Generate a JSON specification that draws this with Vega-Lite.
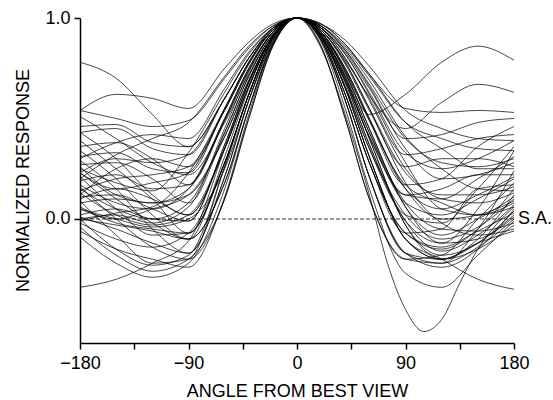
{
"$schema":"https://vega.github.io/schema/vega-lite/v6.json",
"width":434,"height":325,
"autosize":{"type":"none"},
"padding":{"left":80,"top":18,"right":39,"bottom":57},
"background":"white",
"config":{"view":{"stroke":null},"font":"Liberation Sans"},
"layer":[
{"data":{"values":[
{"c":1,"a":-180,"v":0.78},{"c":1,"a":-150,"v":0.70},{"c":1,"a":-120,"v":0.52},{"c":1,"a":-90,"v":0.36},{"c":1,"a":-60,"v":0.60},{"c":1,"a":-40,"v":0.80},{"c":1,"a":-20,"v":0.94},{"c":1,"a":0,"v":1},{"c":1,"a":20,"v":0.93},{"c":1,"a":40,"v":0.72},{"c":1,"a":60,"v":0.52},{"c":1,"a":90,"v":0.62},{"c":1,"a":120,"v":0.78},{"c":1,"a":150,"v":0.86},{"c":1,"a":180,"v":0.79},
{"c":2,"a":-180,"v":0.54},{"c":2,"a":-150,"v":0.62},{"c":2,"a":-120,"v":0.60},{"c":2,"a":-90,"v":0.55},{"c":2,"a":-60,"v":0.75},{"c":2,"a":-40,"v":0.88},{"c":2,"a":-20,"v":0.97},{"c":2,"a":0,"v":1},{"c":2,"a":20,"v":0.94},{"c":2,"a":40,"v":0.79},{"c":2,"a":60,"v":0.61},{"c":2,"a":90,"v":0.45},{"c":2,"a":120,"v":0.58},{"c":2,"a":150,"v":0.67},{"c":2,"a":180,"v":0.63},
{"c":3,"a":-180,"v":0.54},{"c":3,"a":-150,"v":0.50},{"c":3,"a":-120,"v":0.46},{"c":3,"a":-90,"v":0.49},{"c":3,"a":-60,"v":0.70},{"c":3,"a":-40,"v":0.85},{"c":3,"a":-20,"v":0.96},{"c":3,"a":0,"v":1},{"c":3,"a":20,"v":0.97},{"c":3,"a":40,"v":0.87},{"c":3,"a":60,"v":0.72},{"c":3,"a":90,"v":0.55},{"c":3,"a":120,"v":0.53},{"c":3,"a":150,"v":0.54},{"c":3,"a":180,"v":0.53},
{"c":4,"a":-180,"v":0.51},{"c":4,"a":-150,"v":0.40},{"c":4,"a":-120,"v":0.28},{"c":4,"a":-90,"v":0.22},{"c":4,"a":-60,"v":0.48},{"c":4,"a":-40,"v":0.72},{"c":4,"a":-20,"v":0.92},{"c":4,"a":0,"v":1},{"c":4,"a":20,"v":0.95},{"c":4,"a":40,"v":0.83},{"c":4,"a":60,"v":0.65},{"c":4,"a":90,"v":0.40},{"c":4,"a":120,"v":0.42},{"c":4,"a":150,"v":0.48},{"c":4,"a":180,"v":0.50},
{"c":5,"a":-180,"v":0.46},{"c":5,"a":-150,"v":0.47},{"c":5,"a":-120,"v":0.38},{"c":5,"a":-90,"v":0.36},{"c":5,"a":-60,"v":0.60},{"c":5,"a":-40,"v":0.80},{"c":5,"a":-20,"v":0.94},{"c":5,"a":0,"v":1},{"c":5,"a":20,"v":0.93},{"c":5,"a":40,"v":0.74},{"c":5,"a":60,"v":0.49},{"c":5,"a":90,"v":0.17},{"c":5,"a":120,"v":0.20},{"c":5,"a":150,"v":0.36},{"c":5,"a":180,"v":0.46},
{"c":6,"a":-180,"v":0.43},{"c":6,"a":-150,"v":0.30},{"c":6,"a":-120,"v":0.12},{"c":6,"a":-90,"v":0.02},{"c":6,"a":-60,"v":0.35},{"c":6,"a":-40,"v":0.66},{"c":6,"a":-20,"v":0.91},{"c":6,"a":0,"v":1},{"c":6,"a":20,"v":0.95},{"c":6,"a":40,"v":0.80},{"c":6,"a":60,"v":0.60},{"c":6,"a":90,"v":0.32},{"c":6,"a":120,"v":0.35},{"c":6,"a":150,"v":0.40},{"c":6,"a":180,"v":0.42},
{"c":7,"a":-180,"v":0.43},{"c":7,"a":-150,"v":0.45},{"c":7,"a":-120,"v":0.35},{"c":7,"a":-90,"v":0.32},{"c":7,"a":-60,"v":0.60},{"c":7,"a":-40,"v":0.80},{"c":7,"a":-20,"v":0.95},{"c":7,"a":0,"v":1},{"c":7,"a":20,"v":0.91},{"c":7,"a":40,"v":0.66},{"c":7,"a":60,"v":0.35},{"c":7,"a":90,"v":0.02},{"c":7,"a":120,"v":-0.02},{"c":7,"a":150,"v":0.15},{"c":7,"a":180,"v":0.36},
{"c":8,"a":-180,"v":0.39},{"c":8,"a":-150,"v":0.25},{"c":8,"a":-120,"v":0.10},{"c":8,"a":-90,"v":-0.07},{"c":8,"a":-60,"v":0.28},{"c":8,"a":-40,"v":0.62},{"c":8,"a":-20,"v":0.90},{"c":8,"a":0,"v":1},{"c":8,"a":20,"v":0.95},{"c":8,"a":40,"v":0.82},{"c":8,"a":60,"v":0.63},{"c":8,"a":90,"v":0.33},{"c":8,"a":120,"v":0.25},{"c":8,"a":150,"v":0.30},{"c":8,"a":180,"v":0.39},
{"c":9,"a":-180,"v":0.36},{"c":9,"a":-150,"v":0.38},{"c":9,"a":-120,"v":0.30},{"c":9,"a":-90,"v":0.17},{"c":9,"a":-60,"v":0.49},{"c":9,"a":-40,"v":0.74},{"c":9,"a":-20,"v":0.93},{"c":9,"a":0,"v":1},{"c":9,"a":20,"v":0.91},{"c":9,"a":40,"v":0.68},{"c":9,"a":60,"v":0.37},{"c":9,"a":90,"v":-0.01},{"c":9,"a":120,"v":-0.12},{"c":9,"a":150,"v":0.05},{"c":9,"a":180,"v":0.34},
{"c":10,"a":-180,"v":0.34},{"c":10,"a":-150,"v":0.20},{"c":10,"a":-120,"v":0.02},{"c":10,"a":-90,"v":-0.10},{"c":10,"a":-60,"v":0.18},{"c":10,"a":-40,"v":0.55},{"c":10,"a":-20,"v":0.87},{"c":10,"a":0,"v":1},{"c":10,"a":20,"v":0.91},{"c":10,"a":40,"v":0.69},{"c":10,"a":60,"v":0.41},{"c":10,"a":90,"v":0.12},{"c":10,"a":120,"v":0.10},{"c":10,"a":150,"v":0.20},{"c":10,"a":180,"v":0.31},
{"c":11,"a":-180,"v":0.31},{"c":11,"a":-150,"v":0.33},{"c":11,"a":-120,"v":0.25},{"c":11,"a":-90,"v":0.23},{"c":11,"a":-60,"v":0.55},{"c":11,"a":-40,"v":0.78},{"c":11,"a":-20,"v":0.94},{"c":11,"a":0,"v":1},{"c":11,"a":20,"v":0.96},{"c":11,"a":40,"v":0.84},{"c":11,"a":60,"v":0.66},{"c":11,"a":90,"v":0.35},{"c":11,"a":120,"v":0.20},{"c":11,"a":150,"v":0.22},{"c":11,"a":180,"v":0.28},
{"c":12,"a":-180,"v":0.29},{"c":12,"a":-150,"v":0.15},{"c":12,"a":-120,"v":-0.05},{"c":12,"a":-90,"v":-0.17},{"c":12,"a":-60,"v":0.21},{"c":12,"a":-40,"v":0.59},{"c":12,"a":-20,"v":0.89},{"c":12,"a":0,"v":1},{"c":12,"a":20,"v":0.94},{"c":12,"a":40,"v":0.77},{"c":12,"a":60,"v":0.54},{"c":12,"a":90,"v":0.26},{"c":12,"a":120,"v":0.30},{"c":12,"a":150,"v":0.30},{"c":12,"a":180,"v":0.26},
{"c":13,"a":-180,"v":0.27},{"c":13,"a":-150,"v":0.28},{"c":13,"a":-120,"v":0.20},{"c":13,"a":-90,"v":0.08},{"c":13,"a":-60,"v":0.43},{"c":13,"a":-40,"v":0.71},{"c":13,"a":-20,"v":0.92},{"c":13,"a":0,"v":1},{"c":13,"a":20,"v":0.89},{"c":13,"a":40,"v":0.59},{"c":13,"a":60,"v":0.21},{"c":13,"a":90,"v":-0.17},{"c":13,"a":120,"v":-0.22},{"c":13,"a":150,"v":-0.05},{"c":13,"a":180,"v":0.24},
{"c":14,"a":-180,"v":0.25},{"c":14,"a":-150,"v":0.18},{"c":14,"a":-120,"v":0.14},{"c":14,"a":-90,"v":0.33},{"c":14,"a":-60,"v":0.63},{"c":14,"a":-40,"v":0.82},{"c":14,"a":-20,"v":0.95},{"c":14,"a":0,"v":1},{"c":14,"a":20,"v":0.93},{"c":14,"a":40,"v":0.75},{"c":14,"a":60,"v":0.50},{"c":14,"a":90,"v":0.15},{"c":14,"a":120,"v":0.05},{"c":14,"a":150,"v":0.12},{"c":14,"a":180,"v":0.21},
{"c":15,"a":-180,"v":0.23},{"c":15,"a":-150,"v":0.10},{"c":15,"a":-120,"v":-0.02},{"c":15,"a":-90,"v":-0.10},{"c":15,"a":-60,"v":0.18},{"c":15,"a":-40,"v":0.55},{"c":15,"a":-20,"v":0.87},{"c":15,"a":0,"v":1},{"c":15,"a":20,"v":0.92},{"c":15,"a":40,"v":0.71},{"c":15,"a":60,"v":0.43},{"c":15,"a":90,"v":0.08},{"c":15,"a":120,"v":0.02},{"c":15,"a":150,"v":0.10},{"c":15,"a":180,"v":0.20},
{"c":16,"a":-180,"v":0.23},{"c":16,"a":-150,"v":0.30},{"c":16,"a":-120,"v":0.28},{"c":16,"a":-90,"v":0.32},{"c":16,"a":-60,"v":0.60},{"c":16,"a":-40,"v":0.80},{"c":16,"a":-20,"v":0.95},{"c":16,"a":0,"v":1},{"c":16,"a":20,"v":0.86},{"c":16,"a":40,"v":0.50},{"c":16,"a":60,"v":0.10},{"c":16,"a":90,"v":-0.20},{"c":16,"a":120,"v":-0.18},{"c":16,"a":150,"v":0.00},{"c":16,"a":180,"v":0.18},
{"c":17,"a":-180,"v":0.21},{"c":17,"a":-150,"v":0.05},{"c":17,"a":-120,"v":-0.08},{"c":17,"a":-90,"v":-0.07},{"c":17,"a":-60,"v":0.28},{"c":17,"a":-40,"v":0.62},{"c":17,"a":-20,"v":0.90},{"c":17,"a":0,"v":1},{"c":17,"a":20,"v":0.94},{"c":17,"a":40,"v":0.78},{"c":17,"a":60,"v":0.55},{"c":17,"a":90,"v":0.23},{"c":17,"a":120,"v":0.12},{"c":17,"a":150,"v":0.12},{"c":17,"a":180,"v":0.16},
{"c":18,"a":-180,"v":0.19},{"c":18,"a":-150,"v":0.22},{"c":18,"a":-120,"v":0.15},{"c":18,"a":-90,"v":0.17},{"c":18,"a":-60,"v":0.49},{"c":18,"a":-40,"v":0.74},{"c":18,"a":-20,"v":0.93},{"c":18,"a":0,"v":1},{"c":18,"a":20,"v":0.90},{"c":18,"a":40,"v":0.62},{"c":18,"a":60,"v":0.28},{"c":18,"a":90,"v":-0.07},{"c":18,"a":120,"v":-0.15},{"c":18,"a":150,"v":-0.05},{"c":18,"a":180,"v":0.15},
{"c":19,"a":-180,"v":0.17},{"c":19,"a":-150,"v":0.08},{"c":19,"a":-120,"v":0.05},{"c":19,"a":-90,"v":0.15},{"c":19,"a":-60,"v":0.50},{"c":19,"a":-40,"v":0.75},{"c":19,"a":-20,"v":0.93},{"c":19,"a":0,"v":1},{"c":19,"a":20,"v":0.95},{"c":19,"a":40,"v":0.80},{"c":19,"a":60,"v":0.59},{"c":19,"a":90,"v":0.25},{"c":19,"a":120,"v":0.10},{"c":19,"a":150,"v":0.08},{"c":19,"a":180,"v":0.13},
{"c":20,"a":-180,"v":0.16},{"c":20,"a":-150,"v":0.00},{"c":20,"a":-120,"v":-0.14},{"c":20,"a":-90,"v":-0.20},{"c":20,"a":-60,"v":0.10},{"c":20,"a":-40,"v":0.50},{"c":20,"a":-20,"v":0.86},{"c":20,"a":0,"v":1},{"c":20,"a":20,"v":0.91},{"c":20,"a":40,"v":0.65},{"c":20,"a":60,"v":0.31},{"c":20,"a":90,"v":-0.10},{"c":20,"a":120,"v":-0.20},{"c":20,"a":150,"v":-0.10},{"c":20,"a":180,"v":0.12},
{"c":21,"a":-180,"v":0.14},{"c":21,"a":-150,"v":0.20},{"c":21,"a":-120,"v":0.22},{"c":21,"a":-90,"v":0.26},{"c":21,"a":-60,"v":0.54},{"c":21,"a":-40,"v":0.77},{"c":21,"a":-20,"v":0.94},{"c":21,"a":0,"v":1},{"c":21,"a":20,"v":0.93},{"c":21,"a":40,"v":0.73},{"c":21,"a":60,"v":0.45},{"c":21,"a":90,"v":0.06},{"c":21,"a":120,"v":-0.08},{"c":21,"a":150,"v":0.00},{"c":21,"a":180,"v":0.11},
{"c":22,"a":-180,"v":0.13},{"c":22,"a":-150,"v":0.02},{"c":22,"a":-120,"v":-0.03},{"c":22,"a":-90,"v":0.02},{"c":22,"a":-60,"v":0.35},{"c":22,"a":-40,"v":0.66},{"c":22,"a":-20,"v":0.91},{"c":22,"a":0,"v":1},{"c":22,"a":20,"v":0.91},{"c":22,"a":40,"v":0.66},{"c":22,"a":60,"v":0.35},{"c":22,"a":90,"v":0.02},{"c":22,"a":120,"v":-0.10},{"c":22,"a":150,"v":-0.04},{"c":22,"a":180,"v":0.10},
{"c":23,"a":-180,"v":0.11},{"c":23,"a":-150,"v":0.12},{"c":23,"a":-120,"v":0.05},{"c":23,"a":-90,"v":-0.01},{"c":23,"a":-60,"v":0.37},{"c":23,"a":-40,"v":0.68},{"c":23,"a":-20,"v":0.91},{"c":23,"a":0,"v":1},{"c":23,"a":20,"v":0.95},{"c":23,"a":40,"v":0.82},{"c":23,"a":60,"v":0.62},{"c":23,"a":90,"v":0.28},{"c":23,"a":120,"v":0.05},{"c":23,"a":150,"v":0.02},{"c":23,"a":180,"v":0.08},
{"c":24,"a":-180,"v":0.09},{"c":24,"a":-150,"v":-0.08},{"c":24,"a":-120,"v":-0.22},{"c":24,"a":-90,"v":-0.20},{"c":24,"a":-60,"v":0.26},{"c":24,"a":-40,"v":0.62},{"c":24,"a":-20,"v":0.90},{"c":24,"a":0,"v":1},{"c":24,"a":20,"v":0.91},{"c":24,"a":40,"v":0.68},{"c":24,"a":60,"v":0.37},{"c":24,"a":90,"v":-0.01},{"c":24,"a":120,"v":-0.16},{"c":24,"a":150,"v":-0.08},{"c":24,"a":180,"v":0.07},
{"c":25,"a":-180,"v":0.08},{"c":25,"a":-150,"v":0.10},{"c":25,"a":-120,"v":0.08},{"c":25,"a":-90,"v":0.15},{"c":25,"a":-60,"v":0.50},{"c":25,"a":-40,"v":0.75},{"c":25,"a":-20,"v":0.93},{"c":25,"a":0,"v":1},{"c":25,"a":20,"v":0.93},{"c":25,"a":40,"v":0.74},{"c":25,"a":60,"v":0.49},{"c":25,"a":90,"v":0.17},{"c":25,"a":120,"v":0.08},{"c":25,"a":150,"v":0.02},{"c":25,"a":180,"v":0.06},
{"c":26,"a":-180,"v":0.06},{"c":26,"a":-150,"v":-0.02},{"c":26,"a":-120,"v":-0.05},{"c":26,"a":-90,"v":-0.07},{"c":26,"a":-60,"v":0.28},{"c":26,"a":-40,"v":0.62},{"c":26,"a":-20,"v":0.90},{"c":26,"a":0,"v":1},{"c":26,"a":20,"v":0.89},{"c":26,"a":40,"v":0.59},{"c":26,"a":60,"v":0.21},{"c":26,"a":90,"v":-0.17},{"c":26,"a":120,"v":-0.24},{"c":26,"a":150,"v":-0.15},{"c":26,"a":180,"v":0.05},
{"c":27,"a":-180,"v":0.05},{"c":27,"a":-150,"v":0.00},{"c":27,"a":-120,"v":-0.04},{"c":27,"a":-90,"v":0.00},{"c":27,"a":-60,"v":0.25},{"c":27,"a":-40,"v":0.59},{"c":27,"a":-20,"v":0.88},{"c":27,"a":0,"v":1},{"c":27,"a":20,"v":0.92},{"c":27,"a":40,"v":0.70},{"c":27,"a":60,"v":0.40},{"c":27,"a":90,"v":-0.03},{"c":27,"a":120,"v":-0.18},{"c":27,"a":150,"v":-0.12},{"c":27,"a":180,"v":0.04},
{"c":28,"a":-180,"v":0.00},{"c":28,"a":-150,"v":-0.15},{"c":28,"a":-120,"v":-0.23},{"c":28,"a":-90,"v":-0.18},{"c":28,"a":-60,"v":0.26},{"c":28,"a":-40,"v":0.62},{"c":28,"a":-20,"v":0.90},{"c":28,"a":0,"v":1},{"c":28,"a":20,"v":0.90},{"c":28,"a":40,"v":0.62},{"c":28,"a":60,"v":0.28},{"c":28,"a":90,"v":-0.07},{"c":28,"a":120,"v":-0.14},{"c":28,"a":150,"v":-0.06},{"c":28,"a":180,"v":0.03},
{"c":29,"a":-180,"v":0.02},{"c":29,"a":-150,"v":0.05},{"c":29,"a":-120,"v":0.00},{"c":29,"a":-90,"v":-0.01},{"c":29,"a":-60,"v":0.37},{"c":29,"a":-40,"v":0.68},{"c":29,"a":-20,"v":0.91},{"c":29,"a":0,"v":1},{"c":29,"a":20,"v":0.91},{"c":29,"a":40,"v":0.65},{"c":29,"a":60,"v":0.31},{"c":29,"a":90,"v":-0.10},{"c":29,"a":120,"v":-0.20},{"c":29,"a":150,"v":-0.12},{"c":29,"a":180,"v":0.02},
{"c":30,"a":-180,"v":0.01},{"c":30,"a":-150,"v":-0.05},{"c":30,"a":-120,"v":-0.12},{"c":30,"a":-90,"v":-0.17},{"c":30,"a":-60,"v":0.21},{"c":30,"a":-40,"v":0.59},{"c":30,"a":-20,"v":0.89},{"c":30,"a":0,"v":1},{"c":30,"a":20,"v":0.93},{"c":30,"a":40,"v":0.73},{"c":30,"a":60,"v":0.45},{"c":30,"a":90,"v":0.06},{"c":30,"a":120,"v":-0.12},{"c":30,"a":150,"v":-0.10},{"c":30,"a":180,"v":0.01},
{"c":31,"a":-180,"v":0.00},{"c":31,"a":-150,"v":0.02},{"c":31,"a":-120,"v":-0.02},{"c":31,"a":-90,"v":0.06},{"c":31,"a":-60,"v":0.45},{"c":31,"a":-40,"v":0.73},{"c":31,"a":-20,"v":0.93},{"c":31,"a":0,"v":1},{"c":31,"a":20,"v":0.86},{"c":31,"a":40,"v":0.50},{"c":31,"a":60,"v":0.10},{"c":31,"a":90,"v":-0.20},{"c":31,"a":120,"v":-0.22},{"c":31,"a":150,"v":-0.14},{"c":31,"a":180,"v":0.00},
{"c":32,"a":-180,"v":0.00},{"c":32,"a":-150,"v":-0.03},{"c":32,"a":-120,"v":-0.06},{"c":32,"a":-90,"v":-0.10},{"c":32,"a":-60,"v":0.31},{"c":32,"a":-40,"v":0.65},{"c":32,"a":-20,"v":0.91},{"c":32,"a":0,"v":1},{"c":32,"a":20,"v":0.88},{"c":32,"a":40,"v":0.55},{"c":32,"a":60,"v":0.15},{"c":32,"a":90,"v":-0.27},{"c":32,"a":120,"v":-0.34},{"c":32,"a":150,"v":-0.18},{"c":32,"a":180,"v":-0.01},
{"c":33,"a":-180,"v":-0.01},{"c":33,"a":-150,"v":0.03},{"c":33,"a":-120,"v":0.06},{"c":33,"a":-90,"v":0.23},{"c":33,"a":-60,"v":0.55},{"c":33,"a":-40,"v":0.78},{"c":33,"a":-20,"v":0.94},{"c":33,"a":0,"v":1},{"c":33,"a":20,"v":0.92},{"c":33,"a":40,"v":0.71},{"c":33,"a":60,"v":0.43},{"c":33,"a":90,"v":0.08},{"c":33,"a":120,"v":-0.05},{"c":33,"a":150,"v":-0.06},{"c":33,"a":180,"v":-0.02},
{"c":34,"a":-180,"v":-0.02},{"c":34,"a":-150,"v":-0.10},{"c":34,"a":-120,"v":-0.14},{"c":34,"a":-90,"v":-0.07},{"c":34,"a":-60,"v":0.28},{"c":34,"a":-40,"v":0.62},{"c":34,"a":-20,"v":0.90},{"c":34,"a":0,"v":1},{"c":34,"a":20,"v":0.92},{"c":34,"a":40,"v":0.70},{"c":34,"a":60,"v":0.40},{"c":34,"a":90,"v":-0.03},{"c":34,"a":120,"v":-0.20},{"c":34,"a":150,"v":-0.15},{"c":34,"a":180,"v":-0.03},
{"c":35,"a":-180,"v":-0.04},{"c":35,"a":-150,"v":-0.18},{"c":35,"a":-120,"v":-0.26},{"c":35,"a":-90,"v":-0.20},{"c":35,"a":-60,"v":0.10},{"c":35,"a":-40,"v":0.50},{"c":35,"a":-20,"v":0.86},{"c":35,"a":0,"v":1},{"c":35,"a":20,"v":0.94},{"c":35,"a":40,"v":0.78},{"c":35,"a":60,"v":0.55},{"c":35,"a":90,"v":0.18},{"c":35,"a":120,"v":-0.02},{"c":35,"a":150,"v":-0.08},{"c":35,"a":180,"v":-0.05},
{"c":36,"a":-180,"v":-0.06},{"c":36,"a":-150,"v":-0.15},{"c":36,"a":-120,"v":-0.20},{"c":36,"a":-90,"v":-0.24},{"c":36,"a":-60,"v":0.11},{"c":36,"a":-40,"v":0.52},{"c":36,"a":-20,"v":0.87},{"c":36,"a":0,"v":1},{"c":36,"a":20,"v":0.89},{"c":36,"a":40,"v":0.59},{"c":36,"a":60,"v":0.21},{"c":36,"a":90,"v":-0.17},{"c":36,"a":120,"v":-0.20},{"c":36,"a":150,"v":-0.12},{"c":36,"a":180,"v":-0.06},
{"c":37,"a":-180,"v":-0.09},{"c":37,"a":-150,"v":-0.22},{"c":37,"a":-120,"v":-0.29},{"c":37,"a":-90,"v":-0.22},{"c":37,"a":-60,"v":0.15},{"c":37,"a":-40,"v":0.55},{"c":37,"a":-20,"v":0.88},{"c":37,"a":0,"v":1},{"c":37,"a":20,"v":0.85},{"c":37,"a":40,"v":0.52},{"c":37,"a":60,"v":0.12},{"c":37,"a":75,"v":-0.22},{"c":37,"a":90,"v":-0.45},{"c":37,"a":105,"v":-0.56},{"c":37,"a":120,"v":-0.50},{"c":37,"a":135,"v":-0.32},{"c":37,"a":150,"v":-0.15},{"c":37,"a":165,"v":-0.03},{"c":37,"a":180,"v":0.06},
{"c":38,"a":-180,"v":-0.34},{"c":38,"a":-150,"v":-0.30},{"c":38,"a":-120,"v":-0.22},{"c":38,"a":-90,"v":-0.11},{"c":38,"a":-60,"v":0.35},{"c":38,"a":-40,"v":0.68},{"c":38,"a":-20,"v":0.91},{"c":38,"a":0,"v":1},{"c":38,"a":20,"v":0.91},{"c":38,"a":40,"v":0.65},{"c":38,"a":60,"v":0.31},{"c":38,"a":90,"v":-0.10},{"c":38,"a":120,"v":-0.20},{"c":38,"a":150,"v":-0.30},{"c":38,"a":180,"v":-0.35},
{"c":39,"a":-180,"v":0.20},{"c":39,"a":-150,"v":0.32},{"c":39,"a":-120,"v":0.40},{"c":39,"a":-90,"v":0.48},{"c":39,"a":-60,"v":0.71},{"c":39,"a":-40,"v":0.86},{"c":39,"a":-20,"v":0.96},{"c":39,"a":0,"v":1},{"c":39,"a":20,"v":0.91},{"c":39,"a":40,"v":0.69},{"c":39,"a":60,"v":0.41},{"c":39,"a":90,"v":0.12},{"c":39,"a":120,"v":0.15},{"c":39,"a":150,"v":0.22},{"c":39,"a":180,"v":0.22},
{"c":40,"a":-180,"v":0.26},{"c":40,"a":-150,"v":0.12},{"c":40,"a":-120,"v":0.08},{"c":40,"a":-90,"v":0.12},{"c":40,"a":-60,"v":0.41},{"c":40,"a":-40,"v":0.69},{"c":40,"a":-20,"v":0.91},{"c":40,"a":0,"v":1},{"c":40,"a":20,"v":0.96},{"c":40,"a":40,"v":0.85},{"c":40,"a":60,"v":0.69},{"c":40,"a":90,"v":0.41},{"c":40,"a":120,"v":0.25},{"c":40,"a":150,"v":0.15},{"c":40,"a":180,"v":0.14},
{"c":41,"a":-180,"v":0.12},{"c":41,"a":-150,"v":0.25},{"c":41,"a":-120,"v":0.30},{"c":41,"a":-90,"v":0.26},{"c":41,"a":-60,"v":0.54},{"c":41,"a":-40,"v":0.77},{"c":41,"a":-20,"v":0.94},{"c":41,"a":0,"v":1},{"c":41,"a":20,"v":0.93},{"c":41,"a":40,"v":0.75},{"c":41,"a":60,"v":0.50},{"c":41,"a":90,"v":0.15},{"c":41,"a":120,"v":0.00},{"c":41,"a":150,"v":0.02},{"c":41,"a":180,"v":0.09},
{"c":42,"a":-180,"v":0.30},{"c":42,"a":-150,"v":0.38},{"c":42,"a":-120,"v":0.42},{"c":42,"a":-90,"v":0.40},{"c":42,"a":-60,"v":0.65},{"c":42,"a":-40,"v":0.83},{"c":42,"a":-20,"v":0.95},{"c":42,"a":0,"v":1},{"c":42,"a":20,"v":0.96},{"c":42,"a":40,"v":0.84},{"c":42,"a":60,"v":0.67},{"c":42,"a":90,"v":0.40},{"c":42,"a":120,"v":0.28},{"c":42,"a":150,"v":0.26},{"c":42,"a":180,"v":0.30},
{"c":43,"a":-180,"v":0.15},{"c":43,"a":-150,"v":0.05},{"c":43,"a":-120,"v":0.00},{"c":43,"a":-90,"v":0.08},{"c":43,"a":-60,"v":0.43},{"c":43,"a":-40,"v":0.71},{"c":43,"a":-20,"v":0.92},{"c":43,"a":0,"v":1},{"c":43,"a":20,"v":0.90},{"c":43,"a":40,"v":0.62},{"c":43,"a":60,"v":0.28},{"c":43,"a":90,"v":-0.07},{"c":43,"a":120,"v":-0.05},{"c":43,"a":150,"v":0.15},{"c":43,"a":180,"v":0.17},
{"c":44,"a":-180,"v":0.10},{"c":44,"a":-150,"v":0.15},{"c":44,"a":-120,"v":0.10},{"c":44,"a":-90,"v":0.02},{"c":44,"a":-60,"v":0.35},{"c":44,"a":-40,"v":0.66},{"c":44,"a":-20,"v":0.91},{"c":44,"a":0,"v":1},{"c":44,"a":20,"v":0.97},{"c":44,"a":40,"v":0.87},{"c":44,"a":60,"v":0.72},{"c":44,"a":90,"v":0.48},{"c":44,"a":120,"v":0.35},{"c":44,"a":150,"v":0.25},{"c":44,"a":180,"v":0.25},
{"c":45,"a":-180,"v":0.05},{"c":45,"a":-150,"v":0.00},{"c":45,"a":-120,"v":0.05},{"c":45,"a":-90,"v":0.12},{"c":45,"a":-60,"v":0.41},{"c":45,"a":-40,"v":0.69},{"c":45,"a":-20,"v":0.91},{"c":45,"a":0,"v":1},{"c":45,"a":20,"v":0.97},{"c":45,"a":40,"v":0.89},{"c":45,"a":60,"v":0.76},{"c":45,"a":90,"v":0.54},{"c":45,"a":120,"v":0.45},{"c":45,"a":150,"v":0.40},{"c":45,"a":180,"v":0.39},
{"c":46,"a":-180,"v":0.23},{"c":46,"a":-150,"v":0.15},{"c":46,"a":-120,"v":0.18},{"c":46,"a":-90,"v":0.23},{"c":46,"a":-60,"v":0.55},{"c":46,"a":-40,"v":0.78},{"c":46,"a":-20,"v":0.94},{"c":46,"a":0,"v":1},{"c":46,"a":20,"v":0.96},{"c":46,"a":40,"v":0.86},{"c":46,"a":60,"v":0.71},{"c":46,"a":90,"v":0.48},{"c":46,"a":120,"v":0.40},{"c":46,"a":150,"v":0.35},{"c":46,"a":180,"v":0.34}
]},
"mark":{"type":"line","interpolate":"monotone","color":"black","strokeWidth":0.85,"opacity":0.85},
"encoding":{
"x":{"field":"a","type":"quantitative","title":"ANGLE FROM BEST VIEW","scale":{"domain":[-180,180],"nice":false,"zero":false},
"axis":{"values":[-180,-135,-90,-45,0,45,90,135,180],"labelExpr":"datum.value % 90 === 0 ? datum.label : ''","grid":false,"labelFlush":false,"labelOverlap":false,"domainColor":"black","domainWidth":1.5,"tickColor":"black","tickWidth":1.5,"tickSize":6,"labelFontSize":18,"labelColor":"black","labelPadding":5,"titleFontSize":18,"titleFontWeight":"normal","titleColor":"black","titleY":48,"titleBaseline":"middle"}},
"y":{"field":"v","type":"quantitative","title":"NORMALIZED RESPONSE","scale":{"domain":[-0.617,1],"nice":false,"zero":false},
"axis":{"values":[0,1],"format":".1f","grid":false,"domainColor":"black","domainWidth":1.5,"tickColor":"black","tickWidth":1.5,"tickSize":6,"labelFontSize":18,"labelColor":"black","labelPadding":4,"titleFontSize":18,"titleFontWeight":"normal","titleColor":"black","titleX":-57,"titleY":162,"titleBaseline":"middle","titleAlign":"center"}},
"detail":{"field":"c","type":"nominal"}}},
{"data":{"values":[{"y":0}]},
"mark":{"type":"rule","color":"black","strokeDash":[4,2],"strokeWidth":0.8},
"encoding":{"y":{"field":"y","type":"quantitative"}}},
{"data":{"values":[{"x":180,"y":0,"label":"S.A."}]},
"mark":{"type":"text","align":"left","baseline":"middle","dx":4,"fontSize":18,"color":"black"},
"encoding":{"x":{"field":"x","type":"quantitative"},"y":{"field":"y","type":"quantitative"},"text":{"field":"label"}}}
]
}
